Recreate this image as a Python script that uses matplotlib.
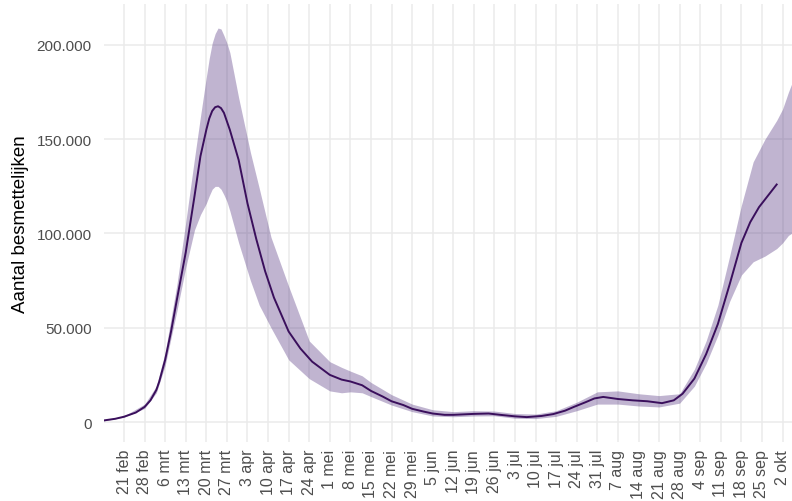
import matplotlib
matplotlib.use("Agg")
from matplotlib import pyplot as plt
import pandas as pd

# centrale schatting
line_dates = ["2020-02-14", "2020-02-18", "2020-02-21", "2020-02-25", "2020-02-28",
              "2020-03-01", "2020-03-03", "2020-03-04", "2020-03-06", "2020-03-08",
              "2020-03-10", "2020-03-13",
              "2020-03-16", "2020-03-18", "2020-03-20", "2020-03-21", "2020-03-22",
              "2020-03-23", "2020-03-24", "2020-03-25", "2020-03-26", "2020-03-28",
              "2020-03-31", "2020-04-03", "2020-04-06",
              "2020-04-09", "2020-04-12", "2020-04-17", "2020-04-21", "2020-04-25",
              "2020-05-01", "2020-05-05", "2020-05-08", "2020-05-12", "2020-05-15",
              "2020-05-19", "2020-05-22", "2020-05-26", "2020-05-29", "2020-06-02",
              "2020-06-05", "2020-06-09", "2020-06-12", "2020-06-19", "2020-06-24",
              "2020-06-28", "2020-07-03", "2020-07-07", "2020-07-12", "2020-07-16",
              "2020-07-20", "2020-07-23", "2020-07-27", "2020-07-30", "2020-08-02",
              "2020-08-07", "2020-08-12", "2020-08-17", "2020-08-22", "2020-08-26",
              "2020-08-29", "2020-09-02", "2020-09-06", "2020-09-10", "2020-09-14",
              "2020-09-18", "2020-09-21", "2020-09-24", "2020-09-27", "2020-09-30"]
line_values = [800, 1700, 2800, 5000, 8000,
               11500, 17000, 21500, 33000, 48000,
               65000, 90000,
               120000, 141000, 155000, 161000, 165000,
               167000, 167500, 166500, 164000, 155000,
               139000, 116000, 97000,
               80000, 66000, 48000, 39000, 32000,
               25000, 22500, 21500, 19500, 16500,
               13500, 11000, 9000, 7000, 5500,
               4500, 3800, 3800, 4300, 4500,
               3800, 3000, 2600, 3200, 4200,
               6000, 8000, 10500, 12500, 13300,
               12200, 11500, 11000, 10000, 11500,
               15000, 23000, 36000, 52000, 73000,
               95000, 106000, 114000, 120000, 126000]

# onzekerheidsband
band_dates = ["2020-02-14", "2020-02-21", "2020-02-28", "2020-03-03", "2020-03-06", "2020-03-10",
              "2020-03-13", "2020-03-16", "2020-03-18", "2020-03-20", "2020-03-21",
              "2020-03-22", "2020-03-23", "2020-03-24", "2020-03-25", "2020-03-26",
              "2020-03-27", "2020-03-28", "2020-03-31", "2020-04-04",
              "2020-04-07", "2020-04-11", "2020-04-17", "2020-04-24", "2020-05-01",
              "2020-05-05", "2020-05-08", "2020-05-12", "2020-05-15", "2020-05-22",
              "2020-05-29", "2020-06-05", "2020-06-12", "2020-06-19", "2020-06-26",
              "2020-07-03", "2020-07-10", "2020-07-17", "2020-07-24", "2020-07-31",
              "2020-08-07", "2020-08-14", "2020-08-21", "2020-08-28", "2020-09-02",
              "2020-09-06", "2020-09-10", "2020-09-14", "2020-09-18", "2020-09-22",
              "2020-09-26", "2020-09-30", "2020-10-02", "2020-10-04", "2020-10-07"]
band_lower = [600, 2500, 7200, 15500, 30000, 59000,
              82000, 102000, 110000, 116000, 120000,
              123500, 125000, 125000, 123500, 120500,
              117000, 112000, 95000, 75000,
              62000, 50000, 33000, 23000, 16500,
              15500, 16000, 15500, 13500, 9000,
              5500, 3200, 2800, 3200, 3300,
              2000, 1800, 3000, 6000, 9500,
              9500, 8500, 8000, 10000, 19000,
              31000, 46000, 64000, 78000, 85000,
              88000, 92000, 95000, 99000, 102000]
band_upper = [1000, 3200, 9500, 19000, 37000, 73000,
              106000, 140000, 162000, 183000, 193000,
              201000, 206000, 209000, 208500, 205000,
              201000, 196000, 172000, 143000,
              124000, 98000, 72000, 43000, 32000,
              29000, 27000, 24500, 21000, 14500,
              9500, 6500, 5500, 6000, 5800,
              4500, 4200, 6000, 10500, 16000,
              16500, 15000, 14000, 15000, 28000,
              43000, 62000, 88000, 115000, 138000,
              150000, 160000, 166000, 175000, 187000]

maanden = {2: "feb", 3: "mrt", 4: "apr", 5: "mei", 6: "jun",
           7: "jul", 8: "aug", 9: "sep", 10: "okt"}
tick_dates = pd.date_range("2020-02-21", "2020-10-02", freq="7D")
tick_labels = [f"{d.day} {maanden[d.month]}" for d in tick_dates]
y_ticks = [0, 50000, 100000, 150000, 200000]
y_labels = ["0", "50.000", "100.000", "150.000", "200.000"]

plt.rcParams["font.family"] = ["Liberation Sans", "DejaVu Sans"]

fig = plt.figure(figsize=(7.92, 5.02), dpi=100)
ax = fig.add_axes([104 / 792, 1 - 443 / 502, 688 / 792, 438 / 502])

ax.fill_between(pd.to_datetime(band_dates), band_lower, band_upper,
                color="#4b2a7b", alpha=0.35, linewidth=0, zorder=2)
ax.plot(pd.to_datetime(line_dates), line_values, color="#3a0f5c", linewidth=1.4, zorder=3)

# 21 feb staat op pixel 124, 2.94 px per dag
start = pd.Timestamp("2020-02-21")
ax.set_xlim(start - pd.Timedelta(days=20 / 2.94), start + pd.Timedelta(days=668 / 2.94))
ax.set_ylim(-10610, 221750)

ax.set_xticks(tick_dates)
ax.set_xticklabels(tick_labels, rotation=90, ha="center", va="top")
ax.set_yticks(y_ticks)
ax.set_yticklabels(y_labels)
ax.set_ylabel("Aantal besmettelijken", fontsize=13.5, color="black", labelpad=5)

ax.grid(True, color="#ebebeb", linewidth=1.1, zorder=0)
ax.set_axisbelow(True)
for s in ax.spines.values():
    s.set_visible(False)
ax.tick_params(axis="both", length=0, labelcolor="#4d4d4d", labelsize=11)
ax.tick_params(axis="x", pad=5, labelsize=11.5)
ax.tick_params(axis="y", pad=9)

fig.savefig("out.png", dpi=100, facecolor="white")
